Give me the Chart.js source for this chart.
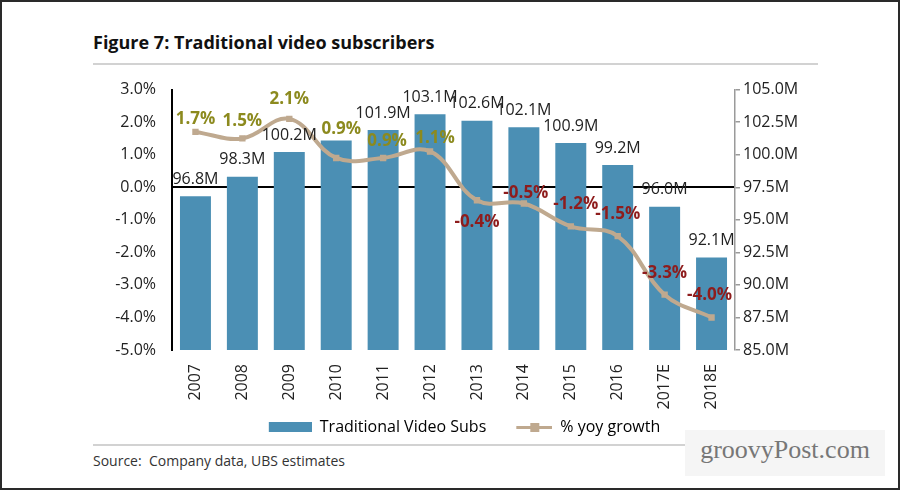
<!DOCTYPE html>
<html lang="en">
  <head>
    <meta charset="UTF-8" />
    <title>Traditional video subscribers</title>
    <style>
      html, body { margin: 0; padding: 0; background: #fff; }
      .frame {
        position: relative; width: 900px; height: 490px; box-sizing: border-box;
        border: 2px solid #2a2a2a; overflow: hidden;
        font-family: "Open Sans", sans-serif; color: #222;
      }
      .title { position: absolute; left: 91px; top: 28px; line-height: 24px; font-size: 18px; font-weight: bold; color: #111; }
      .rule { position: absolute; left: 91px; width: 725px; height: 2px; background: #d2d2d2; }
      .chartBox { position: absolute; left: 6px; top: 62px; width: 900px; height: 381px; }
      .source { position: absolute; left: 91px; top: 449px; line-height: 20px; font-size: 14px; color: #333; }
      .mark {
        position: absolute; left: 683px; top: 428px; width: 200px; height: 46px; background: #f5f5f5;
        font-family: "Liberation Serif", "DejaVu Serif", serif; font-size: 26px; color: #777;
        line-height: 40px; text-align: center;
      }
    </style>
  </head>
  <body>
    <div class="frame">
      <div class="title">Figure 7: Traditional video subscribers</div>
      <div class="rule" style="top: 61px"></div>
      <div class="chartBox"><canvas id="myChart"></canvas></div>
      <div class="rule" style="top: 442px"></div>
      <div class="source">Source:&nbsp; Company data, UBS estimates</div>
      <div class="mark">groovyPost.com</div>
    </div>
    <script src="https://cdn.jsdelivr.net/npm/chart.js"></script>
    <script>
      const years = ["2007", "2008", "2009", "2010", "2011", "2012", "2013", "2014", "2015", "2016", "2017E", "2018E"];
      const subs = [96.8, 98.3, 100.2, 101.1, 101.9, 103.1, 102.6, 102.1, 100.9, 99.2, 96.0, 92.1];
      const subsLabels = ["96.8M", "98.3M", "100.2M", "", "101.9M", "103.1M", "102.6M", "102.1M", "100.9M", "99.2M", "96.0M", "92.1M"];
      const growth = [1.7, 1.5, 2.1, 0.9, 0.9, 1.1, -0.4, -0.5, -1.2, -1.5, -3.3, -4.0];

      const barColor = "#4b8fb4";
      const lineColor = "#bfa98f";

      // where each growth label sits relative to its point
      const growthOffsets = [[0, -13], [0, -17], [0, -20], [5, -29], [4, -17], [5, -13], [0, 22], [2, -10], [5, -22], [0, -22], [0, -22], [-2, -22]];

      Chart.defaults.font.family = "'Open Sans', sans-serif";
      Chart.defaults.color = "#222";

      // legend swatches: 56px wide, mark sits at the right end
      function swatch(kind) {
        const c = document.createElement("canvas");
        c.width = 56;
        c.height = 10;
        const g = c.getContext("2d");
        if (kind === "bar") {
          g.fillStyle = barColor;
          g.fillRect(13, 0, 43, 10);
        } else {
          g.fillStyle = lineColor;
          g.fillRect(20, 4, 36, 3);
          g.fillRect(34, 1, 9, 9);
        }
        return c;
      }

      const valueLabels = {
        id: "valueLabels",
        afterDatasetsDraw(chart) {
          const ctx = chart.ctx;
          ctx.save();
          ctx.textAlign = "center";
          ctx.textBaseline = "middle";
          ctx.font = "16px 'Open Sans', sans-serif";
          ctx.fillStyle = "#222";
          chart.getDatasetMeta(0).data.forEach((bar, i) => {
            if (subsLabels[i]) ctx.fillText(subsLabels[i], bar.x, bar.y - 17);
          });
          ctx.font = "bold 17px 'Open Sans', sans-serif";
          chart.getDatasetMeta(1).data.forEach((pt, i) => {
            const v = growth[i];
            ctx.fillStyle = v >= 0 ? "#8c8a1e" : "#8e1c1c";
            ctx.fillText(v.toFixed(1) + "%", pt.x + growthOffsets[i][0], pt.y + growthOffsets[i][1]);
          });
          ctx.restore();
        },
      };

      const ctx = document.getElementById("myChart").getContext("2d");
      const myChart = new Chart(ctx, {
        data: {
          labels: years,
          datasets: [
            {
              type: "bar",
              label: "Traditional Video Subs",
              data: subs,
              yAxisID: "ySubs",
              backgroundColor: barColor,
              barPercentage: 0.66,
              categoryPercentage: 1,
              order: 2,
            },
            {
              type: "line",
              label: "% yoy growth",
              data: growth,
              yAxisID: "yPct",
              borderColor: lineColor,
              backgroundColor: lineColor,
              borderWidth: 4,
              pointStyle: "rect",
              pointRadius: 4.5,
              pointBackgroundColor: lineColor,
              pointBorderWidth: 0,
              tension: 0.4,
              order: 1,
            },
          ],
        },
        options: {
          responsive: true,
          maintainAspectRatio: false,
          animation: false,
          layout: { padding: { top: 19, left: 0, right: 0, bottom: 0 } },
          plugins: {
            tooltip: { enabled: false },
            legend: {
              position: "bottom",
              labels: {
                usePointStyle: true,
                pointStyleWidth: 56,
                padding: 10,
                color: "#222",
                font: { size: 16 },
                generateLabels(chart) {
                  return chart.data.datasets.map((ds, i) => ({
                    text: ds.label,
                    datasetIndex: i,
                    pointStyle: swatch(i === 0 ? "bar" : "line"),
                    fillStyle: "transparent",
                    strokeStyle: "transparent",
                    lineWidth: 0,
                    hidden: false,
                  }));
                },
              },
            },
          },
          scales: {
            x: {
              grid: { display: false },
              border: { display: false },
              ticks: { minRotation: 90, maxRotation: 90, padding: 6, font: { size: 16 } },
              afterFit(s) { s.height = 59; },
            },
            yPct: {
              position: "left",
              min: -5,
              max: 3,
              z: 1,
              ticks: { stepSize: 1, padding: 16, font: { size: 16 }, callback: (v) => v.toFixed(1) + "%" },
              grid: {
                drawTicks: false,
                lineWidth: 2,
                color: (c) => (c.tick && c.tick.value === 0 ? "#000" : "transparent"),
              },
              border: { color: "#000", width: 2 },
              afterFit(s) { s.width = 164; },
            },
            ySubs: {
              position: "right",
              min: 85,
              max: 105,
              ticks: { stepSize: 2.5, padding: 3, font: { size: 16 }, callback: (v) => v.toFixed(1) + "M" },
              grid: { drawOnChartArea: false, drawTicks: true, tickLength: 5, color: "#9a9a9a", lineWidth: 1.5 },
              border: { color: "#9a9a9a", width: 1.5 },
              afterFit(s) { s.width = 173; },
            },
          },
        },
        plugins: [valueLabels],
      });
    </script>
  </body>
</html>
